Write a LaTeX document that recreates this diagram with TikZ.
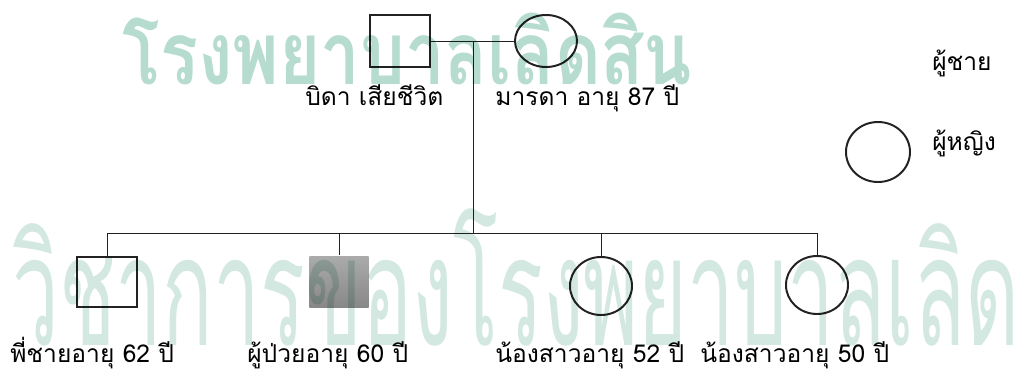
\documentclass[tikz,border=0pt]{standalone}
\usepackage{fontspec}
\setmainfont[Script=Thai]{Loma}
\usetikzlibrary{shapes.geometric}
\definecolor{wmark}{RGB}{182,219,207}
\definecolor{wmarklight}{RGB}{210,232,224}
\definecolor{ink}{RGB}{34,34,34}

\begin{document}
\begin{tikzpicture}[x=0.025cm, y=-0.025cm,
  male/.style={draw=ink, line width=1.4pt, minimum width=1.48cm, minimum height=1.29cm, inner sep=0pt},
  female/.style={draw=ink, line width=1.4pt, ellipse, minimum width=1.55cm, minimum height=1.45cm, inner sep=0pt},
  link/.style={draw=ink, line width=0.6pt},
  lbl/.style={font=\fontsize{17.5}{21}\selectfont, inner sep=0pt, anchor=base west}]
  \useasboundingbox (0,0) rectangle (1014,376);
  % parents
  \node[male] (father) at (400,41) {};
  \node[female, minimum height=1.3cm] (mother) at (546,41) {};
  % children
  \node[male, minimum height=1.27cm] (brother) at (107,282) {};
  \node[male, draw=none, top color=black!33, bottom color=black!47] (patient) at (339,282) {};
  \node[female] (sister1) at (601,286) {};
  \node[female] (sister2) at (817,285) {};
  % legend
  \node[female, minimum width=1.6cm, minimum height=1.5cm] (legendf) at (878,152) {};
  % lines
  \coordinate (knot) at (473,41);
  \coordinate (fork) at (473,233);
  \draw[link] (father) -- (mother);
  \draw[link] (knot) -- (fork);
  \draw[link] (brother.north) -- (brother.north |- fork) -- (sister2.north |- fork) -- (sister2.north);
  \draw[link] (patient.north) -- (patient.north |- fork);
  \draw[link] (sister1.north) -- (sister1.north |- fork);
  % labels
  \node[lbl] (fatherlbl) at (305,105) {บิดา เสียชีวิต};
  \node[lbl] (motherlbl) at (495,105) {มารดา อายุ 87 ปี};
  \node[lbl] (malelbl) at (932,70) {ผู้ชาย};
  \node[lbl] (femalelbl) at (932,150) {ผู้หญิง};
  \node[lbl] (brotherlbl) at (10,362) {พี่ชายอายุ 62 ปี};
  \node[lbl] (patientlbl) at (247,362) {ผู้ป่วยอายุ 60 ปี};
  \node[lbl] (sister1lbl) at (495,362) {น้องสาวอายุ 52 ปี};
  \node[lbl] (sister2lbl) at (700,362) {น้องสาวอายุ 50 ปี};
  % watermark
  \begin{scope}[blend mode=multiply]
    \clip (0,0) rectangle (1014,376);
    \node[anchor=base west, inner sep=0pt, text=wmark, font=\fontsize{62}{62}\selectfont\bfseries] (wtop) at (122,84) {\scalebox{0.81}[1]{โรงพยาบาลเลิดสิน}};
    \node[anchor=base west, inner sep=0pt, text=wmarklight, font=\fontsize{108}{108}\selectfont] (wbot) at (12,345) {\scalebox{0.55}[1]{วิชาการของโรงพยาบาลเลิดสิน}};
  \end{scope}
\end{tikzpicture}
\end{document}
